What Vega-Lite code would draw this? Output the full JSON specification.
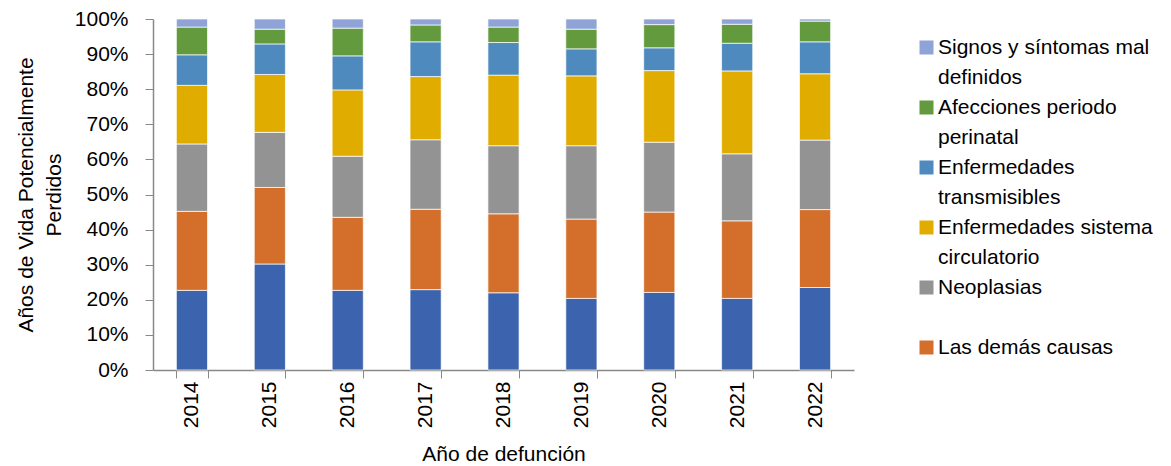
{
  "$schema": "https://vega.github.io/schema/vega-lite/v6.json",
  "autosize": {"type": "none"},
  "width": 701,
  "height": 351,
  "padding": {"left": 153, "top": 19, "right": 317, "bottom": 96},
  "background": "white",
  "config": {
    "view": {"stroke": null},
    "font": "Liberation Sans",
    "style": {"guide-label": {"lineHeight": 30}}
  },
  "data": {
    "values": [
      {"year": "2014", "cause": "Causas externas", "o": 1, "v": 22.7},
      {"year": "2014", "cause": "Las demás causas", "o": 2, "v": 22.5},
      {"year": "2014", "cause": "Neoplasias", "o": 3, "v": 19.2},
      {"year": "2014", "cause": "Enfermedades sistema circulatorio", "o": 4, "v": 16.7},
      {"year": "2014", "cause": "Enfermedades transmisibles", "o": 5, "v": 8.7},
      {"year": "2014", "cause": "Afecciones periodo perinatal", "o": 6, "v": 7.9},
      {"year": "2014", "cause": "Signos y síntomas mal definidos", "o": 7, "v": 2.3},
      {"year": "2015", "cause": "Causas externas", "o": 1, "v": 30.2},
      {"year": "2015", "cause": "Las demás causas", "o": 2, "v": 21.8},
      {"year": "2015", "cause": "Neoplasias", "o": 3, "v": 15.7},
      {"year": "2015", "cause": "Enfermedades sistema circulatorio", "o": 4, "v": 16.5},
      {"year": "2015", "cause": "Enfermedades transmisibles", "o": 5, "v": 8.7},
      {"year": "2015", "cause": "Afecciones periodo perinatal", "o": 6, "v": 4.2},
      {"year": "2015", "cause": "Signos y síntomas mal definidos", "o": 7, "v": 2.9},
      {"year": "2016", "cause": "Causas externas", "o": 1, "v": 22.7},
      {"year": "2016", "cause": "Las demás causas", "o": 2, "v": 20.8},
      {"year": "2016", "cause": "Neoplasias", "o": 3, "v": 17.4},
      {"year": "2016", "cause": "Enfermedades sistema circulatorio", "o": 4, "v": 18.9},
      {"year": "2016", "cause": "Enfermedades transmisibles", "o": 5, "v": 9.7},
      {"year": "2016", "cause": "Afecciones periodo perinatal", "o": 6, "v": 7.9},
      {"year": "2016", "cause": "Signos y síntomas mal definidos", "o": 7, "v": 2.6},
      {"year": "2017", "cause": "Causas externas", "o": 1, "v": 22.9},
      {"year": "2017", "cause": "Las demás causas", "o": 2, "v": 22.9},
      {"year": "2017", "cause": "Neoplasias", "o": 3, "v": 19.8},
      {"year": "2017", "cause": "Enfermedades sistema circulatorio", "o": 4, "v": 18.0},
      {"year": "2017", "cause": "Enfermedades transmisibles", "o": 5, "v": 9.9},
      {"year": "2017", "cause": "Afecciones periodo perinatal", "o": 6, "v": 4.8},
      {"year": "2017", "cause": "Signos y síntomas mal definidos", "o": 7, "v": 1.7},
      {"year": "2018", "cause": "Causas externas", "o": 1, "v": 22.0},
      {"year": "2018", "cause": "Las demás causas", "o": 2, "v": 22.5},
      {"year": "2018", "cause": "Neoplasias", "o": 3, "v": 19.4},
      {"year": "2018", "cause": "Enfermedades sistema circulatorio", "o": 4, "v": 20.1},
      {"year": "2018", "cause": "Enfermedades transmisibles", "o": 5, "v": 9.3},
      {"year": "2018", "cause": "Afecciones periodo perinatal", "o": 6, "v": 4.4},
      {"year": "2018", "cause": "Signos y síntomas mal definidos", "o": 7, "v": 2.3},
      {"year": "2019", "cause": "Causas externas", "o": 1, "v": 20.4},
      {"year": "2019", "cause": "Las demás causas", "o": 2, "v": 22.6},
      {"year": "2019", "cause": "Neoplasias", "o": 3, "v": 20.9},
      {"year": "2019", "cause": "Enfermedades sistema circulatorio", "o": 4, "v": 19.9},
      {"year": "2019", "cause": "Enfermedades transmisibles", "o": 5, "v": 7.7},
      {"year": "2019", "cause": "Afecciones periodo perinatal", "o": 6, "v": 5.6},
      {"year": "2019", "cause": "Signos y síntomas mal definidos", "o": 7, "v": 2.9},
      {"year": "2020", "cause": "Causas externas", "o": 1, "v": 22.1},
      {"year": "2020", "cause": "Las demás causas", "o": 2, "v": 22.9},
      {"year": "2020", "cause": "Neoplasias", "o": 3, "v": 19.9},
      {"year": "2020", "cause": "Enfermedades sistema circulatorio", "o": 4, "v": 20.4},
      {"year": "2020", "cause": "Enfermedades transmisibles", "o": 5, "v": 6.5},
      {"year": "2020", "cause": "Afecciones periodo perinatal", "o": 6, "v": 6.6},
      {"year": "2020", "cause": "Signos y síntomas mal definidos", "o": 7, "v": 1.6},
      {"year": "2021", "cause": "Causas externas", "o": 1, "v": 20.4},
      {"year": "2021", "cause": "Las demás causas", "o": 2, "v": 22.1},
      {"year": "2021", "cause": "Neoplasias", "o": 3, "v": 19.1},
      {"year": "2021", "cause": "Enfermedades sistema circulatorio", "o": 4, "v": 23.6},
      {"year": "2021", "cause": "Enfermedades transmisibles", "o": 5, "v": 7.9},
      {"year": "2021", "cause": "Afecciones periodo perinatal", "o": 6, "v": 5.4},
      {"year": "2021", "cause": "Signos y síntomas mal definidos", "o": 7, "v": 1.5},
      {"year": "2022", "cause": "Causas externas", "o": 1, "v": 23.5},
      {"year": "2022", "cause": "Las demás causas", "o": 2, "v": 22.2},
      {"year": "2022", "cause": "Neoplasias", "o": 3, "v": 19.8},
      {"year": "2022", "cause": "Enfermedades sistema circulatorio", "o": 4, "v": 18.9},
      {"year": "2022", "cause": "Enfermedades transmisibles", "o": 5, "v": 9.1},
      {"year": "2022", "cause": "Afecciones periodo perinatal", "o": 6, "v": 5.9},
      {"year": "2022", "cause": "Signos y síntomas mal definidos", "o": 7, "v": 0.6}
    ]
  },
  "mark": {"type": "bar", "stroke": "white", "strokeWidth": 0.7},
  "encoding": {
    "x": {
      "field": "year",
      "type": "ordinal",
      "scale": {"paddingInner": 0.6, "paddingOuter": 0.3},
      "axis": {
        "title": "Año de defunción",
        "titleFontSize": 21,
        "titleFontWeight": "normal",
        "titleColor": "#000",
        "titlePadding": 16,
        "labelAngle": -90,
        "labelFontSize": 21,
        "labelColor": "#000",
        "labelPadding": 3,
        "tickBand": "extent",
        "tickSize": 8,
        "tickColor": "#888",
        "domainColor": "#888",
        "domainWidth": 1.5
      }
    },
    "y": {
      "field": "v",
      "type": "quantitative",
      "stack": "normalize",
      "scale": {"domain": [0, 1]},
      "axis": {
        "title": ["Años de Vida Potencialmente", "Perdidos"],
        "titleFontSize": 21,
        "titleFontWeight": "normal",
        "titleColor": "#000",
        "titleLineHeight": 28,
        "titlePadding": 10,
        "format": ".0%",
        "values": [0, 0.1, 0.2, 0.3, 0.4, 0.5, 0.6, 0.7, 0.8, 0.9, 1],
        "labelFontSize": 21,
        "labelColor": "#000",
        "labelPadding": 17,
        "tickSize": 8,
        "tickColor": "#888",
        "domainColor": "#888",
        "domainWidth": 1.5,
        "grid": false
      }
    },
    "color": {
      "field": "cause",
      "type": "nominal",
      "scale": {
        "domain": ["Signos y síntomas mal definidos", "Afecciones periodo perinatal", "Enfermedades transmisibles", "Enfermedades sistema circulatorio", "Neoplasias", "Las demás causas", "Causas externas"],
        "range": ["#8FA3D6", "#639A3D", "#4E8ABE", "#E1AC00", "#939393", "#D36F2B", "#3C64AE"]
      },
      "legend": {
        "orient": "none",
        "legendX": 763,
        "legendY": 18,
        "title": null,
        "values": ["Signos y síntomas mal definidos", "Afecciones periodo perinatal", "Enfermedades transmisibles", "Enfermedades sistema circulatorio", "Neoplasias", "Las demás causas"],
        "labelExpr": "datum.label == 'Signos y síntomas mal definidos' ? ['Signos y síntomas mal', 'definidos'] : datum.label == 'Afecciones periodo perinatal' ? ['Afecciones periodo', 'perinatal'] : datum.label == 'Enfermedades transmisibles' ? ['Enfermedades', 'transmisibles'] : datum.label == 'Enfermedades sistema circulatorio' ? ['Enfermedades sistema', 'circulatorio'] : datum.label == 'Neoplasias' ? ['Neoplasias', ' '] : [datum.label, ' ']",
        "labelFontSize": 21,
        "labelColor": "#000",
        "labelLimit": 300,
        "labelOffset": 1,
        "symbolType": "square",
        "symbolSize": 196,
        "symbolStrokeWidth": 0,
        "rowPadding": 8
      }
    },
    "order": {"field": "o", "type": "quantitative"}
  }
}
